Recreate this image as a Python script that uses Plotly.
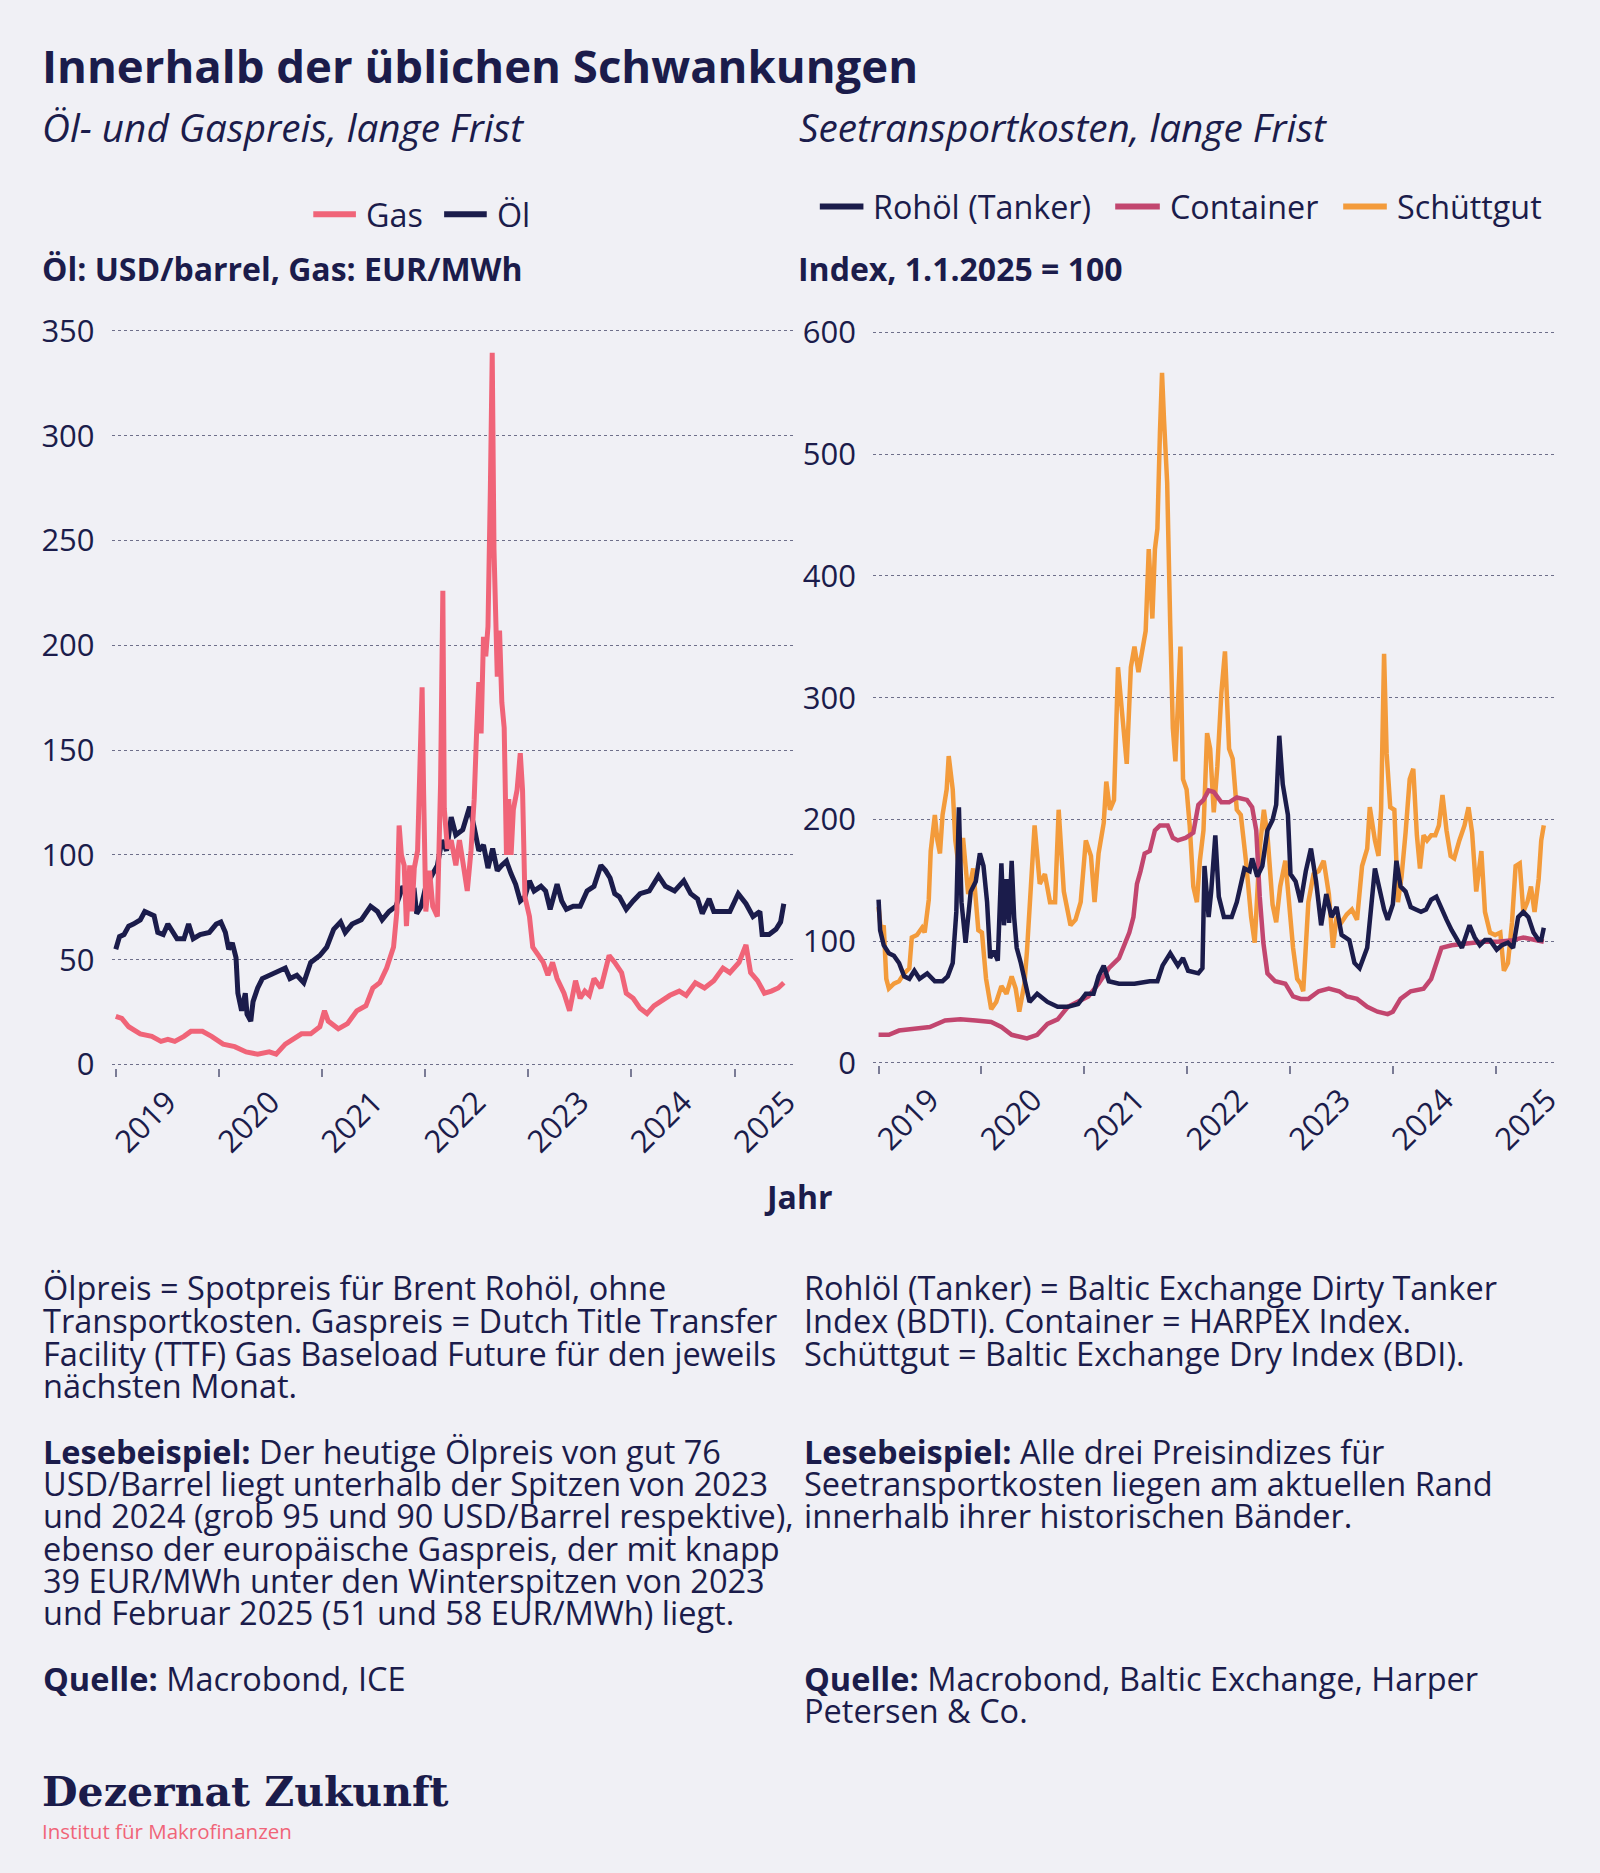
import pandas as pd
import plotly.graph_objects as go

# ---------------- data ----------------
YEAR_OIL = [2019.000, 2019.036, 2019.080, 2019.125, 2019.170, 2019.237, 2019.281, 2019.326, 2019.371, 2019.407,
            2019.460, 2019.505, 2019.550, 2019.594, 2019.661, 2019.706, 2019.751, 2019.818, 2019.907, 2019.974,
            2020.019, 2020.063, 2020.095, 2020.130, 2020.166, 2020.184, 2020.220, 2020.256, 2020.273, 2020.309,
            2020.331, 2020.376, 2020.421, 2020.488, 2020.577, 2020.644, 2020.689, 2020.756, 2020.823, 2020.890,
            2020.979, 2021.046, 2021.113, 2021.180, 2021.225, 2021.292, 2021.381, 2021.471, 2021.538, 2021.583,
            2021.650, 2021.717, 2021.784, 2021.828, 2021.895, 2021.918, 2021.962, 2022.007, 2022.074, 2022.119,
            2022.163, 2022.208, 2022.253, 2022.298, 2022.365, 2022.432, 2022.476, 2022.521, 2022.566, 2022.610,
            2022.655, 2022.700, 2022.744, 2022.789, 2022.834, 2022.878, 2022.923, 2022.968, 2023.012, 2023.057,
            2023.124, 2023.169, 2023.213, 2023.280, 2023.325, 2023.370, 2023.437, 2023.504, 2023.571, 2023.638,
            2023.705, 2023.750, 2023.794, 2023.839, 2023.884, 2023.951, 2024.018, 2024.085, 2024.174, 2024.264,
            2024.331, 2024.420, 2024.509, 2024.576, 2024.643, 2024.688, 2024.755, 2024.800, 2024.867, 2024.956,
            2025.037, 2025.112, 2025.180, 2025.247, 2025.269, 2025.336, 2025.403, 2025.448, 2025.479]
OIL = [55, 61, 62, 66, 67, 69, 73, 72, 71, 63,
       62, 67, 63, 60, 60, 67, 60, 62, 63, 67,
       68, 63, 55, 58, 51, 34, 25.6, 34, 24, 20.7,
       30, 36.5, 41, 42.6, 45, 46, 41, 42.6, 39, 48.7,
       52, 56, 64.5, 68, 63, 67, 69, 75.5, 73, 69,
       73, 75.5, 85, 81.5, 82.8, 72, 75.5, 85, 91, 95,
       107, 102, 118, 109.5, 112, 123, 113, 102, 104.7, 93.7,
       103, 92.5, 95, 97, 91, 86, 78, 80, 87.6, 82.8,
       85, 82.8, 74, 86, 78, 74, 75.5, 75.5, 82.8, 85,
       95, 92.5, 89, 81.5, 80, 74, 78, 81.5, 82.8, 90,
       85, 82.8, 87.6, 81.5, 79, 72, 79, 73, 73, 73,
       81.5, 76.7, 70.6, 73, 62, 62, 64.5, 68, 76.7]

YEAR_GAS = [2019.000, 2019.058, 2019.125, 2019.237, 2019.349, 2019.438, 2019.505, 2019.572, 2019.661, 2019.728,
            2019.840, 2019.929, 2020.041, 2020.153, 2020.264, 2020.376, 2020.488, 2020.555, 2020.644, 2020.711,
            2020.801, 2020.890, 2020.979, 2021.024, 2021.060, 2021.158, 2021.247, 2021.337, 2021.426, 2021.493,
            2021.560, 2021.627, 2021.694, 2021.726, 2021.748, 2021.770, 2021.797, 2021.819, 2021.851, 2021.873,
            2021.895, 2021.927, 2021.953, 2021.971, 2021.985, 2022.007, 2022.043, 2022.074, 2022.119, 2022.150,
            2022.172, 2022.186, 2022.217, 2022.253, 2022.298, 2022.333, 2022.365, 2022.409, 2022.445, 2022.476,
            2022.499, 2022.521, 2022.543, 2022.566, 2022.588, 2022.610, 2022.633, 2022.651, 2022.668, 2022.686,
            2022.700, 2022.722, 2022.744, 2022.767, 2022.789, 2022.811, 2022.834, 2022.856, 2022.892, 2022.923,
            2022.945, 2022.968, 2023.012, 2023.044, 2023.102, 2023.146, 2023.191, 2023.236, 2023.280, 2023.347,
            2023.401, 2023.459, 2023.504, 2023.549, 2023.593, 2023.638, 2023.705, 2023.750, 2023.785, 2023.839,
            2023.906, 2023.951, 2024.018, 2024.085, 2024.152, 2024.219, 2024.286, 2024.375, 2024.465, 2024.532,
            2024.621, 2024.710, 2024.800, 2024.889, 2024.956, 2025.045, 2025.112, 2025.157, 2025.224, 2025.291,
            2025.358, 2025.425, 2025.479]
GAS = [23, 22, 18, 14.6, 13.4, 11, 12, 11, 13.4, 15.8,
       15.8, 13.4, 9.7, 8.5, 6, 4.9, 6, 4.9, 9.7, 12,
       14.6, 14.6, 18, 25.6, 20.7, 17, 19.5, 25.6, 28, 36.5,
       39, 46, 56, 73, 114, 100, 95, 66, 95, 73,
       93.7, 102, 153, 180, 131, 73, 92.5, 75.5, 70.6, 134,
       226, 122, 103, 107, 95, 107, 97, 82.8, 102, 126.6,
       158, 182.5, 158, 204, 194.7, 209, 275, 339.6, 246, 216.6,
       185, 207, 172.8, 160.6, 100, 126.6, 100, 121.7, 131, 148.5,
       131, 80, 70.6, 56, 52, 48.7, 42.6, 48.7, 41, 34,
       25.6, 40, 31.6, 35, 33, 41, 36.5, 46, 52, 48.7,
       43.8, 34, 31.6, 26.8, 24.3, 28, 30.4, 33, 35, 33,
       39, 36.5, 40, 46, 43.8, 48.7, 57, 43.8, 40, 34,
       35, 36.5, 39]

YEAR_TANKER = [2019.000, 2019.015, 2019.050, 2019.100, 2019.149, 2019.199, 2019.249, 2019.299, 2019.348, 2019.398,
               2019.473, 2019.547, 2019.622, 2019.672, 2019.721, 2019.756, 2019.781, 2019.806, 2019.846, 2019.896,
               2019.945, 2019.985, 2020.020, 2020.055, 2020.085, 2020.119, 2020.159, 2020.194, 2020.219, 2020.244,
               2020.269, 2020.294, 2020.318, 2020.343, 2020.383, 2020.418, 2020.468, 2020.542, 2020.642, 2020.741,
               2020.841, 2020.940, 2021.015, 2021.090, 2021.139, 2021.189, 2021.239, 2021.338, 2021.488, 2021.637,
               2021.711, 2021.761, 2021.836, 2021.910, 2021.960, 2022.010, 2022.109, 2022.149, 2022.169, 2022.209,
               2022.234, 2022.274, 2022.308, 2022.358, 2022.433, 2022.483, 2022.532, 2022.557, 2022.607, 2022.632,
               2022.682, 2022.731, 2022.781, 2022.831, 2022.866, 2022.896, 2022.930, 2022.980, 2023.005, 2023.055,
               2023.104, 2023.154, 2023.204, 2023.254, 2023.303, 2023.353, 2023.403, 2023.453, 2023.502, 2023.577,
               2023.627, 2023.677, 2023.751, 2023.801, 2023.826, 2023.876, 2023.915, 2023.950, 2024.000, 2024.035,
               2024.075, 2024.124, 2024.174, 2024.224, 2024.274, 2024.323, 2024.373, 2024.423, 2024.473, 2024.522,
               2024.572, 2024.622, 2024.672, 2024.746, 2024.796, 2024.846, 2024.896, 2024.945, 2025.010, 2025.060,
               2025.119, 2025.169, 2025.219, 2025.269, 2025.318, 2025.368, 2025.418, 2025.443, 2025.468]
TANKER = [134, 109, 96.6, 90, 88, 82, 71, 69, 75.6, 69,
          73.5, 67, 67, 71, 82, 124, 210, 132, 98.7, 140.7,
          149, 172, 161.7, 132, 86, 92, 84, 163.8, 113, 151,
          115, 166, 119.7, 94.5, 82, 67, 50, 56.7, 50, 46,
          46, 48.3, 56.7, 56.7, 71, 79.8, 67, 65, 65, 67,
          67, 79.8, 90, 79.8, 86, 75.6, 73.5, 77.7, 161.7, 119.7,
          140.7, 186.9, 136.5, 119.7, 119.7, 132, 149, 159.6, 157.5, 168,
          153, 161.7, 191, 199.5, 212, 268.7, 228.8, 203.6, 155, 149,
          132, 157.5, 176, 149, 113, 138.6, 119.7, 128, 105, 100.8,
          82, 77.7, 94.5, 138.6, 159.6, 140.7, 126, 117.6, 130, 166,
          144.9, 140.7, 128, 126, 124, 126, 134, 136.5, 126, 117.6,
          109, 100.8, 94.5, 113, 103, 96.6, 100.8, 100.8, 93, 96.6,
          98.7, 94.5, 119.7, 124, 119.7, 107, 100.8, 100.8, 111]

YEAR_CONTAINER = [2019.000, 2019.100, 2019.199, 2019.348, 2019.498, 2019.647, 2019.796, 2019.945, 2020.095, 2020.194,
                  2020.294, 2020.443, 2020.542, 2020.642, 2020.741, 2020.841, 2020.940, 2021.040, 2021.139, 2021.239,
                  2021.338, 2021.438, 2021.478, 2021.512, 2021.547, 2021.587, 2021.637, 2021.687, 2021.736, 2021.811,
                  2021.861, 2021.910, 2021.985, 2022.060, 2022.109, 2022.159, 2022.209, 2022.259, 2022.333, 2022.408,
                  2022.483, 2022.582, 2022.632, 2022.672, 2022.706, 2022.741, 2022.781, 2022.856, 2022.955, 2023.030,
                  2023.104, 2023.179, 2023.279, 2023.378, 2023.478, 2023.552, 2023.652, 2023.751, 2023.851, 2023.950,
                  2024.000, 2024.075, 2024.174, 2024.299, 2024.373, 2024.423, 2024.473, 2024.572, 2024.721, 2024.871,
                  2025.020, 2025.169, 2025.269, 2025.368, 2025.468]
CONTAINER = [23, 23, 26.5, 28, 29.4, 34.8, 35.7, 34.8, 33.6, 29.4,
             23, 20, 23, 32, 35.7, 46, 50, 54.6, 65, 77.7,
             86, 107, 119.7, 147, 157.5, 172, 174, 191, 195, 195,
             184.8, 182.7, 184.8, 189, 212, 216, 223.8, 222.5, 214, 214,
             218, 216, 210, 191, 136.5, 98.7, 73.5, 67, 65, 54.6,
             52.5, 52.5, 58.8, 60.9, 58.8, 54.6, 52.5, 46, 42, 40,
             42, 52.5, 58.8, 60.9, 69, 82, 94.5, 96.6, 97.8, 99.5,
             99.5, 100.8, 103, 100.8, 99.5]

YEAR_BULK = [2019.000, 2019.025, 2019.050, 2019.075, 2019.100, 2019.149, 2019.199, 2019.249, 2019.299, 2019.323,
             2019.373, 2019.423, 2019.448, 2019.488, 2019.507, 2019.547, 2019.572, 2019.597, 2019.622, 2019.662,
             2019.682, 2019.721, 2019.746, 2019.786, 2019.821, 2019.871, 2019.920, 2019.970, 2020.005, 2020.045,
             2020.095, 2020.144, 2020.194, 2020.244, 2020.294, 2020.333, 2020.368, 2020.418, 2020.443, 2020.493,
             2020.517, 2020.567, 2020.617, 2020.667, 2020.716, 2020.751, 2020.801, 2020.866, 2020.915, 2020.965,
             2021.015, 2021.065, 2021.100, 2021.139, 2021.189, 2021.214, 2021.249, 2021.289, 2021.328, 2021.363,
             2021.413, 2021.453, 2021.488, 2021.527, 2021.562, 2021.597, 2021.627, 2021.662, 2021.687, 2021.711,
             2021.736, 2021.756, 2021.776, 2021.806, 2021.836, 2021.861, 2021.886, 2021.910, 2021.935, 2021.960,
             2021.995, 2022.025, 2022.060, 2022.095, 2022.124, 2022.159, 2022.194, 2022.224, 2022.259, 2022.294,
             2022.333, 2022.368, 2022.408, 2022.443, 2022.483, 2022.522, 2022.572, 2022.622, 2022.657, 2022.706,
             2022.746, 2022.781, 2022.831, 2022.866, 2022.905, 2022.955, 2022.995, 2023.030, 2023.070, 2023.104,
             2023.129, 2023.154, 2023.179, 2023.229, 2023.279, 2023.328, 2023.378, 2023.418, 2023.453, 2023.502,
             2023.552, 2023.602, 2023.652, 2023.701, 2023.751, 2023.776, 2023.826, 2023.861, 2023.886, 2023.915,
             2023.940, 2023.975, 2024.015, 2024.050, 2024.085, 2024.124, 2024.164, 2024.199, 2024.234, 2024.264,
             2024.299, 2024.333, 2024.373, 2024.413, 2024.448, 2024.483, 2024.522, 2024.562, 2024.597, 2024.647,
             2024.697, 2024.736, 2024.771, 2024.811, 2024.861, 2024.896, 2024.945, 2024.995, 2025.045, 2025.080,
             2025.119, 2025.159, 2025.194, 2025.234, 2025.269, 2025.308, 2025.343, 2025.378, 2025.418, 2025.443,
             2025.468]
BULK = [128, 107, 113, 69, 61, 65, 67, 73.5, 77.7, 103,
        105, 111, 107, 134, 174, 203.6, 182.7, 172, 203.6, 224.6,
        252, 224.6, 182.7, 157.5, 184.8, 138.6, 159.6, 109, 107, 69,
        44, 50, 63, 56.7, 71, 61, 42, 65, 92, 166,
        195, 147, 155, 132, 132, 207.9, 140.7, 113, 117.6, 132,
        182.7, 170, 132, 172, 197, 231, 207.9, 216, 325, 291.8,
        245.6, 325, 342, 321, 336, 354.8, 422, 365, 422, 438.8,
        518.6, 566.9, 527, 476.6, 359, 275, 247.7, 291.8, 342, 233,
        224.6, 195, 144.9, 132, 166, 191, 270.8, 258, 205.8, 243.5,
        304, 338, 258, 249.8, 207.9, 203.6, 166, 119.7, 98.7, 176,
        207.9, 186.9, 130, 115.5, 144.9, 166, 124, 94.5, 69, 65,
        58.8, 98.7, 132, 155, 157.5, 166, 138.6, 94.5, 119.7, 115.5,
        121.8, 126, 117.6, 161.7, 176, 210, 182.7, 170, 207.9, 336,
        254, 210, 207.9, 132, 153, 189, 233, 241.5, 186.9, 159.6,
        186.9, 182.7, 186.9, 186.9, 195, 220, 191, 170, 168, 182.7,
        195, 210, 189, 140.7, 174, 124, 107, 105, 107, 75.6,
        82, 115.5, 161.7, 163.8, 124, 132, 144.9, 124, 151, 182.7,
        195]

LEFT_Y_TICKS = [0, 50, 100, 150, 200, 250, 300, 350]
RIGHT_Y_TICKS = [0, 100, 200, 300, 400, 500, 600]

# ---------------- style ----------------
W, H = 1600, 1873
BG = "#f0f0f5"
NAVY = "#1b1c4b"
GAS_C = "#f06478"
CONT_C = "#c2466f"
BULK_C = "#f39b3b"
GRID = "#6e6f8a"
FONT = "Open Sans"


def to_dates(years):
    base = pd.Timestamp("2019-01-01")
    return [base + pd.Timedelta(days=(y - 2019.0) * 365.25) for y in years]


def px_x(x):
    return x / W


def px_y(y):
    return 1 - y / H


fig = go.Figure()

# left chart
fig.add_trace(go.Scatter(x=to_dates(YEAR_OIL), y=OIL, mode="lines", name="Öl",
                         line=dict(color=NAVY, width=5), xaxis="x", yaxis="y"))
fig.add_trace(go.Scatter(x=to_dates(YEAR_GAS), y=GAS, mode="lines", name="Gas",
                         line=dict(color=GAS_C, width=5), xaxis="x", yaxis="y"))
# right chart
fig.add_trace(go.Scatter(x=to_dates(YEAR_BULK), y=BULK, mode="lines", name="Schüttgut",
                         line=dict(color=BULK_C, width=4.5), xaxis="x2", yaxis="y2"))
fig.add_trace(go.Scatter(x=to_dates(YEAR_CONTAINER), y=CONTAINER, mode="lines", name="Container",
                         line=dict(color=CONT_C, width=4.5), xaxis="x2", yaxis="y2"))
fig.add_trace(go.Scatter(x=to_dates(YEAR_TANKER), y=TANKER, mode="lines", name="Rohöl (Tanker)",
                         line=dict(color=NAVY, width=4.5), xaxis="x2", yaxis="y2"))

# geometry (pixels) of the two plot areas
L_X0, L_X1 = 106.5, 796.5
R_X0, R_X1 = 874.6, 1564.6
l_ppu = (1066.4 - 318.9) / 350
L_Y0 = 1066.4 + 1.5 * l_ppu
L_Y1 = 318.9 - 2 * l_ppu
r_ppu = (1064.7 - 320.5) / 600
R_Y0 = 1064.7 + 2 * r_ppu
R_Y1 = 320.5 - 3 * r_ppu

xcommon = dict(type="date", dtick="M12", tick0="2019-01-01", tickformat="%Y",
               ticklabelmode="period", tickangle=-45, ticks="outside", ticklen=8,
               tickwidth=1.5, tickcolor="#7a7b95", showgrid=False, zeroline=False,
               showline=False, tickfont=dict(family=FONT, size=31, color=NAVY),
               ticklabelstandoff=-5, fixedrange=True)
ycommon = dict(showgrid=True, griddash="dot", gridcolor=GRID, gridwidth=1,
               zeroline=False, showline=False, ticks="", ticklabelstandoff=16,
               tickfont=dict(family=FONT, size=31, color=NAVY), fixedrange=True)

fig.update_layout(
    width=W, height=H,
    margin=dict(l=0, r=0, t=0, b=0),
    paper_bgcolor=BG, plot_bgcolor=BG,
    font=dict(family=FONT, color=NAVY),
    showlegend=False,
    xaxis=dict(xcommon, domain=[px_x(L_X0), px_x(L_X1)], anchor="y",
               range=["2018-12-17", "2025-08-05"]),
    yaxis=dict(ycommon, domain=[px_y(L_Y0), px_y(L_Y1)], anchor="x",
               range=[-1.5, 352], tickvals=LEFT_Y_TICKS),
    xaxis2=dict(xcommon, domain=[px_x(R_X0), px_x(R_X1)], anchor="y2",
                range=["2018-12-12", "2025-08-06"]),
    yaxis2=dict(ycommon, domain=[px_y(R_Y0), px_y(R_Y1)], anchor="x2",
                range=[-2, 603], tickvals=RIGHT_Y_TICKS),
)


def ann(x, y, text, size, color=NAVY, weight="normal", style="normal",
        family=FONT, xanchor="left"):
    fig.add_annotation(x=px_x(x), y=px_y(y), xref="paper", yref="paper",
                       text=text, showarrow=False, xanchor=xanchor, yanchor="middle",
                       align="left",
                       font=dict(family=family, size=size, color=color,
                                 weight=weight, style=style))


def legend_key(x0, x1, y, color, label):
    fig.add_shape(type="line", xref="paper", yref="paper",
                  x0=px_x(x0), x1=px_x(x1), y0=px_y(y), y1=px_y(y),
                  line=dict(color=color, width=6))
    ann(x1 + 8, y, label, 32.3)


# legends
legend_key(310, 353, 200, GAS_C, "Gas")
legend_key(442, 485, 200, NAVY, "Öl")
legend_key(821, 865, 192, NAVY, "Rohöl (Tanker)")
legend_key(1119, 1164, 192, CONT_C, "Container")
legend_key(1349, 1393, 192, BULK_C, "Schüttgut")

LX, RX = 34.0, 797.7
ann(LX, 48, "Innerhalb der üblichen Schwankungen", 45.5, weight="bold")
ann(LX, 111.3, "Öl- und Gaspreis, lange Frist", 38.7, style="italic")
ann(RX, 111.3, "Seetransportkosten, lange Frist", 38.7, style="italic")
ann(LX, 255, "Öl: USD/barrel, Gas: EUR/MWh", 32, weight="bold")
ann(796.6, 255, "Index, 1.1.2025 = 100", 32, weight="bold")
ann(799, 1201, "Jahr", 32, weight="bold", xanchor="center")

LEFT_NOTES = [
    (1294.0, "Ölpreis = Spotpreis für Brent Rohöl, ohne"),
    (1327.4, "Transportkosten. Gaspreis = Dutch Title Transfer"),
    (1361.0, "Facility (TTF) Gas Baseload Future für den jeweils"),
    (1393.7, "nächsten Monat."),
    (1460.9, "<b>Lesebeispiel:</b> Der heutige Ölpreis von gut 76"),
    (1493.5, "USD/Barrel liegt unterhalb der Spitzen von 2023"),
    (1526.2, "und 2024 (grob 95 und 90 USD/Barrel respektive),"),
    (1559.8, "ebenso der europäische Gaspreis, der mit knapp"),
    (1592.4, "39 EUR/MWh unter den Winterspitzen von 2023"),
    (1625.0, "und Februar 2025 (51 und 58 EUR/MWh) liegt."),
    (1692.3, "<b>Quelle:</b> Macrobond, ICE"),
]
RIGHT_NOTES = [
    (1294.0, "Rohlöl (Tanker) = Baltic Exchange Dirty Tanker"),
    (1327.4, "Index (BDTI). Container = HARPEX Index."),
    (1361.0, "Schüttgut = Baltic Exchange Dry Index (BDI)."),
    (1460.9, "<b>Lesebeispiel:</b> Alle drei Preisindizes für"),
    (1493.5, "Seetransportkosten liegen am aktuellen Rand"),
    (1526.2, "innerhalb ihrer historischen Bänder."),
    (1692.3, "<b>Quelle:</b> Macrobond, Baltic Exchange, Harper"),
    (1724.9, "Petersen &amp; Co."),
]
for y, t in LEFT_NOTES:
    ann(35.0, y, t, 32.5)
for y, t in RIGHT_NOTES:
    ann(802.7, y, t, 32.5)

ann(LX, 1807.5, "Dezernat Zukunft", 41, weight="bold", family="DejaVu Serif")
ann(LX, 1847.3, "Institut für Makrofinanzen", 20.5, color=GAS_C)

fig.write_html("out.html", config={"displayModeBar": False},
               post_script="document.body.style.margin='0px';"
                           "document.body.style.overflow='hidden';"
                           "document.body.style.background='" + BG + "';"
                           "document.documentElement.style.background='" + BG + "';")
